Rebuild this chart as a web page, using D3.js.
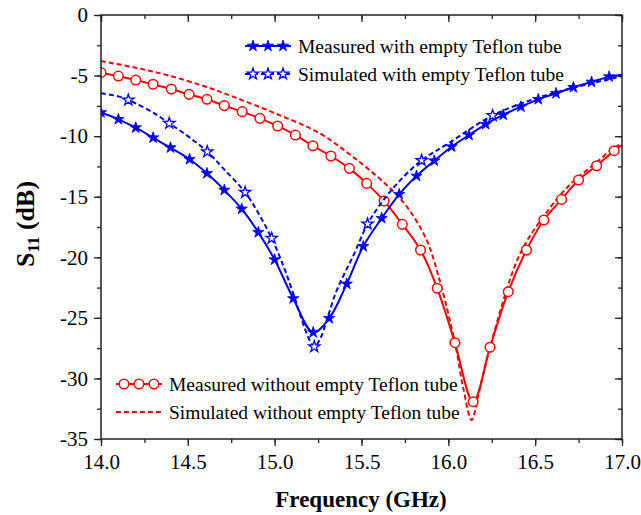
<!DOCTYPE html>
<html lang="en">
<head>
<meta charset="UTF-8">
<title>S11 vs Frequency</title>
<script src="https://d3js.org/d3.v7.min.js"></script>
<style>
  body { margin: 0; background: #fff; }
  text { font-family: "Liberation Serif", "Times New Roman", serif; fill: #000; }
</style>
</head>
<body>
<script>
// blue: with empty Teflon tube, measured (filled stars)
var blueMeasF = [14.0, 14.1, 14.2, 14.3, 14.4, 14.51, 14.61, 14.71, 14.81, 14.906, 15.0, 15.107, 15.222, 15.314, 15.415,
  15.51, 15.616, 15.717, 15.817, 15.919, 16.019, 16.119, 16.215, 16.316, 16.418, 16.518, 16.62, 16.72, 16.825, 16.926, 17.0];
var blueMeasS = [-8.05, -8.61, -9.30, -10.13, -10.95, -11.91, -13.07, -14.45, -16.01, -17.94, -20.2, -23.4, -26.2, -25.04, -22.2,
  -19.1, -16.78, -14.80, -13.29, -12.03, -10.87, -9.91, -9.02, -8.25, -7.57, -6.96, -6.47, -5.97, -5.53, -5.09, -4.93];

// blue: with empty Teflon tube, simulated (dashed, open stars)
var blueSimF = [14.0, 14.1, 14.157, 14.2, 14.3, 14.393, 14.5, 14.612, 14.7, 14.83, 14.9, 14.983, 15.05, 15.1, 15.15, 15.2, 15.228,
  15.26, 15.3, 15.35, 15.4, 15.45, 15.535, 15.6, 15.7, 15.846, 16.0, 16.255, 16.5, 16.75, 17.0];
var blueSimS = [-6.45, -6.72, -7.02, -7.3, -8.05, -8.94, -10.0, -11.28, -12.6, -14.64, -16.2, -18.43, -20.7, -22.7, -24.9, -26.8, -27.38,
  -26.8, -25.2, -23.0, -21.4, -19.95, -17.25, -15.8, -14.0, -12.0, -10.6, -8.3, -6.9, -5.9, -5.05];
var blueSimMarks = [14.157, 14.393, 14.612, 14.83, 14.983, 15.228, 15.535, 15.846, 16.255];

// red: without empty Teflon tube, measured (open circles)
var redMeasF = [14.0, 14.1, 14.2, 14.3, 14.405, 14.507, 14.61, 14.71, 14.813, 14.915, 15.017, 15.119, 15.22, 15.324, 15.43,
  15.53, 15.63, 15.735, 15.84, 15.936, 16.038, 16.143, 16.24, 16.345, 16.45, 16.55, 16.652, 16.75, 16.854, 16.955, 17.0];
var redMeasS = [-4.76, -5.04, -5.37, -5.72, -6.11, -6.55, -6.96, -7.48, -7.98, -8.53, -9.16, -9.91, -10.79, -11.64, -12.66,
  -13.9, -15.35, -17.28, -19.4, -22.56, -27.05, -31.92, -27.43, -22.84, -19.4, -16.92, -15.22, -13.62, -12.44, -11.2, -10.73];

// red: without empty Teflon tube, simulated (dashed)
var redSimF = [14.0, 14.2, 14.378, 14.6, 14.76, 15.0, 15.26, 15.45, 15.645, 15.76, 15.875, 15.95, 16.04, 16.086, 16.134,
  16.18, 16.25, 16.41, 16.55, 16.7, 16.85, 16.95, 17.0];
var redSimS = [-3.8, -4.35, -4.95, -5.9, -6.74, -8.1, -9.77, -11.7, -14.03, -15.8, -18.57, -21.9, -27.2, -30.8, -33.43,
  -30.9, -26.9, -19.8, -16.6, -14.0, -12.2, -11.0, -10.6];

var xTicks = [14.0, 14.5, 15.0, 15.5, 16.0, 16.5, 17.0];
var yTicks = [0, -5, -10, -15, -20, -25, -30, -35];

var legendTop = ["Measured with empty Teflon tube", "Simulated with empty Teflon tube"];
var legendBottom = ["Measured without empty Teflon tube", "Simulated without empty Teflon tube"];

var width = 641, height = 515;
var pLeft = 101, pRight = 622, pTop = 15, pBottom = 439;
var BLUE = "#0000ff", RED = "#ff0000";

var svg = d3.select("body").append("svg")
  .attr("width", width)
  .attr("height", height);

var x = d3.scaleLinear().domain([14, 17]).range([pLeft, pRight]);
var y = d3.scaleLinear().domain([-35, 0]).range([pBottom, pTop]);

svg.append("clipPath").attr("id", "plot")
  .append("rect")
  .attr("x", pLeft).attr("y", pTop)
  .attr("width", pRight - pLeft).attr("height", pBottom - pTop);

function pts(fs, ss) {
  return fs.map(function (f, i) { return [f, ss[i]]; });
}

var line = d3.line()
  .x(function (d) { return x(d[0]); })
  .y(function (d) { return y(d[1]); })
  .curve(d3.curveCatmullRom.alpha(0.5));

var plot = svg.append("g").attr("clip-path", "url(#plot)");

var star = d3.symbol().type(d3.symbolStar).size(40);

// red measured
plot.append("path").datum(pts(redMeasF, redMeasS))
  .attr("d", line).attr("fill", "none").attr("stroke", RED).attr("stroke-width", 2);
// red simulated
plot.append("path").datum(pts(redSimF, redSimS))
  .attr("d", line).attr("fill", "none").attr("stroke", RED).attr("stroke-width", 2)
  .attr("stroke-dasharray", "5,3");
plot.selectAll(".rc").data(pts(redMeasF, redMeasS).filter(function (d) { return d[0] < 16.99; }))
  .enter().append("circle")
  .attr("cx", function (d) { return x(d[0]); })
  .attr("cy", function (d) { return y(d[1]); })
  .attr("r", 4.8)
  .attr("fill", "#fff").attr("stroke", RED).attr("stroke-width", 1.5);

// blue measured
plot.append("path").datum(pts(blueMeasF, blueMeasS))
  .attr("d", line).attr("fill", "none").attr("stroke", BLUE).attr("stroke-width", 2);
// blue simulated
var bsim = pts(blueSimF, blueSimS);
plot.append("path").datum(bsim)
  .attr("d", line).attr("fill", "none").attr("stroke", BLUE).attr("stroke-width", 2)
  .attr("stroke-dasharray", "5,3");
plot.selectAll(".bs").data(bsim.filter(function (d) { return blueSimMarks.indexOf(d[0]) >= 0; }))
  .enter().append("path")
  .attr("d", star)
  .attr("transform", function (d) { return "translate(" + x(d[0]) + "," + y(d[1]) + ")"; })
  .attr("fill", "#fff").attr("stroke", BLUE).attr("stroke-width", 1.3);
plot.selectAll(".bm").data(pts(blueMeasF, blueMeasS).filter(function (d) { return d[0] < 16.99; }))
  .enter().append("path")
  .attr("d", star)
  .attr("transform", function (d) { return "translate(" + x(d[0]) + "," + y(d[1]) + ")"; })
  .attr("fill", BLUE).attr("stroke", BLUE).attr("stroke-width", 0.8);

// axes: outward ticks bottom/left, inward ticks top/right
var xMinor = d3.range(14, 17.001, 0.25);
var yMinor = d3.range(-35, 0.001, 2.5);

var axisColor = "#222";
function styleAxis(g) {
  g.select(".domain").remove();
  g.selectAll("line").attr("stroke", axisColor).attr("stroke-width", 1.3);
}
// plain hyphen for negatives, like the original
function yFmt(d) { return String(d); }

svg.append("g").attr("transform", "translate(0," + pBottom + ")")
  .call(d3.axisBottom(x).tickValues(xMinor).tickSize(4).tickFormat(""))
  .call(styleAxis);
svg.append("g").attr("transform", "translate(0," + pBottom + ")")
  .call(d3.axisBottom(x).tickValues(xTicks).tickSize(7).tickPadding(8).tickFormat(d3.format(".1f")))
  .call(styleAxis)
  .selectAll("text").attr("font-size", 21).attr("font-family", "Liberation Serif").attr("fill", "#000");

svg.append("g").attr("transform", "translate(0," + pTop + ")")
  .call(d3.axisBottom(x).tickValues(xMinor).tickSize(4).tickFormat(""))
  .call(styleAxis);
svg.append("g").attr("transform", "translate(0," + pTop + ")")
  .call(d3.axisBottom(x).tickValues(xTicks).tickSize(7).tickFormat(""))
  .call(styleAxis);

svg.append("g").attr("transform", "translate(" + pLeft + ",0)")
  .call(d3.axisLeft(y).tickValues(yMinor).tickSize(4).tickFormat(""))
  .call(styleAxis);
svg.append("g").attr("transform", "translate(" + pLeft + ",0)")
  .call(d3.axisLeft(y).tickValues(yTicks).tickSize(7).tickPadding(6).tickFormat(yFmt))
  .call(styleAxis)
  .selectAll("text").attr("font-size", 21).attr("font-family", "Liberation Serif").attr("fill", "#000");

svg.append("g").attr("transform", "translate(" + pRight + ",0)")
  .call(d3.axisLeft(y).tickValues(yMinor).tickSize(4).tickFormat(""))
  .call(styleAxis);
svg.append("g").attr("transform", "translate(" + pRight + ",0)")
  .call(d3.axisLeft(y).tickValues(yTicks).tickSize(7).tickFormat(""))
  .call(styleAxis);

svg.append("rect")
  .attr("x", pLeft).attr("y", pTop)
  .attr("width", pRight - pLeft).attr("height", pBottom - pTop)
  .attr("fill", "none").attr("stroke", axisColor).attr("stroke-width", 1.5);

// axis titles
svg.append("text")
  .attr("x", 361).attr("y", 507)
  .attr("text-anchor", "middle")
  .attr("font-size", 23).attr("font-weight", "bold")
  .text("Frequency (GHz)");

var yt = svg.append("text")
  .attr("transform", "translate(34,224) rotate(-90)")
  .attr("text-anchor", "middle")
  .attr("font-size", 26).attr("font-weight", "bold");
yt.append("tspan").text("S");
yt.append("tspan").attr("font-size", 17).attr("dy", 5).text("11");
yt.append("tspan").attr("dy", -5).text(" (dB)");

// legends
function legendEntry(x0, yy, color, dashed, marker, label) {
  var g = svg.append("g");
  g.append("line")
    .attr("x1", x0).attr("x2", x0 + 46).attr("y1", yy).attr("y2", yy)
    .attr("stroke", color).attr("stroke-width", 2)
    .attr("stroke-dasharray", dashed ? "5,3" : null);
  [x0 + 8, x0 + 23, x0 + 38].forEach(function (cx) {
    if (marker === "star" || marker === "ostar") {
      g.append("path").attr("d", star)
        .attr("transform", "translate(" + cx + "," + yy + ")")
        .attr("fill", marker === "star" ? color : "#fff")
        .attr("stroke", color).attr("stroke-width", marker === "star" ? 0.8 : 1.3);
    } else if (marker === "circle") {
      g.append("circle").attr("cx", cx).attr("cy", yy).attr("r", 4.8)
        .attr("fill", "#fff").attr("stroke", color).attr("stroke-width", 1.5);
    }
  });
  g.append("text")
    .attr("x", x0 + 53).attr("y", yy + 6.5)
    .attr("font-size", 19.5)
    .text(label);
}

legendEntry(245, 46, BLUE, false, "star", legendTop[0]);
legendEntry(245, 74, BLUE, true, "ostar", legendTop[1]);
legendEntry(116, 384, RED, false, "circle", legendBottom[0]);
legendEntry(116, 412, RED, true, null, legendBottom[1]);
</script>
</body>
</html>
